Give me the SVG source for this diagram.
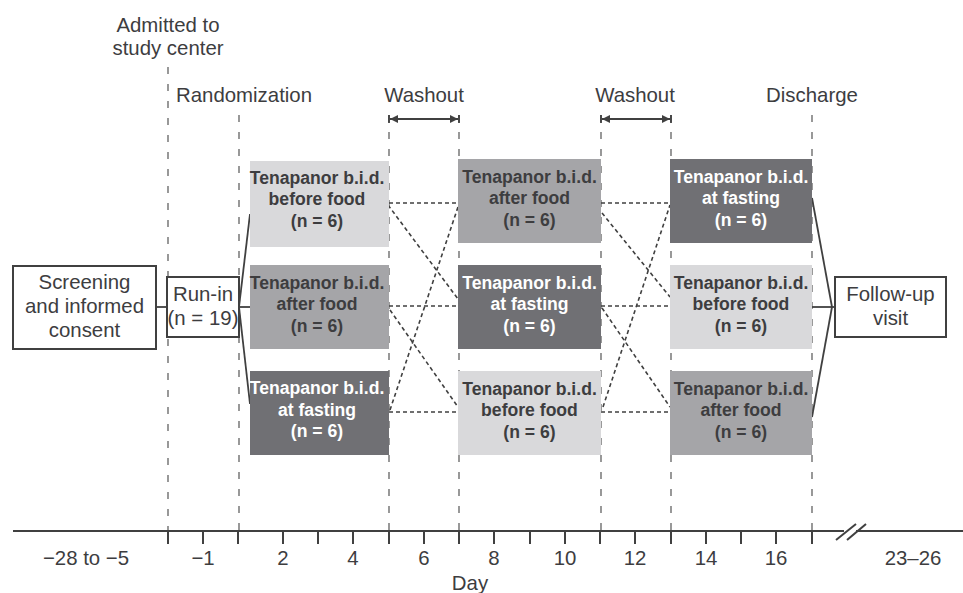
<svg xmlns="http://www.w3.org/2000/svg" width="963" height="593" viewBox="0 0 963 593">
<defs>
<style>
.lbl{font-family:"Liberation Sans",Arial,sans-serif;font-size:20.4px;fill:#3d3d3f}
.bt{font-family:"Liberation Sans",Arial,sans-serif;font-size:17.6px;font-weight:bold;text-anchor:middle}
.dk{fill:#3d3d3f}
.wt{fill:#ffffff}
.vd{stroke:#555;stroke-width:1.2;stroke-dasharray:7 10;fill:none}
.dot{stroke:#404040;stroke-width:1.6;stroke-dasharray:4 3;fill:none}
.sol{stroke:#404040;stroke-width:1.8;fill:none}
.ax{stroke:#404040;stroke-width:2;fill:none}
.light{fill:#d9d9db}
.med{fill:#a5a5a8}
.dark{fill:#707074}
.ob{fill:#fff;stroke:#404040;stroke-width:2}
</style>
<marker id="ah" viewBox="0 0 10 10" refX="10" refY="5" markerWidth="8" markerHeight="8" markerUnits="userSpaceOnUse" orient="auto-start-reverse">
<path d="M0,0 L10,5 L0,10 z" fill="#404040"/>
</marker>
</defs>
<rect width="963" height="593" fill="#fff"/>

<g id="gridlines">
<line class="vd" x1="168" y1="67" x2="168" y2="531"/>
<line class="vd" x1="239" y1="115" x2="239" y2="531"/>
<line class="vd" x1="389" y1="115" x2="389" y2="531"/>
<line class="vd" x1="459" y1="115" x2="459" y2="531"/>
<line class="vd" x1="601" y1="115" x2="601" y2="531"/>
<line class="vd" x1="671" y1="115" x2="671" y2="531"/>
<line class="vd" x1="812" y1="115" x2="812" y2="531"/>
</g>

<g id="phase-labels">
<text class="lbl" x="168" y="32" text-anchor="middle">Admitted to</text>
<text class="lbl" x="168" y="55" text-anchor="middle">study center</text>
<text class="lbl" x="176" y="102">Randomization</text>
<text class="lbl" x="424" y="102" text-anchor="middle">Washout</text>
<text class="lbl" x="635" y="102" text-anchor="middle">Washout</text>
<text class="lbl" x="812" y="102" text-anchor="middle">Discharge</text>
</g>

<g id="washout-arrows">
<line class="sol" x1="389" y1="115" x2="389" y2="123"/>
<line class="sol" x1="459" y1="115" x2="459" y2="123"/>
<line class="sol" x1="390" y1="119" x2="458" y2="119" marker-start="url(#ah)" marker-end="url(#ah)"/>
<line class="sol" x1="601" y1="115" x2="601" y2="123"/>
<line class="sol" x1="671" y1="115" x2="671" y2="123"/>
<line class="sol" x1="602" y1="119" x2="670" y2="119" marker-start="url(#ah)" marker-end="url(#ah)"/>
</g>

<g id="connectors">
<line class="sol" x1="156" y1="307" x2="167" y2="307"/>
<line class="sol" x1="239" y1="307" x2="250" y2="214"/>
<line class="sol" x1="239" y1="307" x2="250" y2="307"/>
<line class="sol" x1="239" y1="307" x2="250" y2="404"/>
<line class="sol" x1="812" y1="198" x2="832" y2="307"/>
<line class="sol" x1="812" y1="307" x2="835" y2="307"/>
<line class="sol" x1="812" y1="417" x2="832" y2="307"/>
<line class="dot" x1="389" y1="203" x2="458" y2="203"/>
<line class="dot" x1="389" y1="306" x2="458" y2="306"/>
<line class="dot" x1="389" y1="412" x2="458" y2="412"/>
<line class="dot" x1="388" y1="205" x2="458" y2="299"/>
<line class="dot" x1="390" y1="310" x2="458" y2="407"/>
<line class="dot" x1="390" y1="410" x2="458" y2="207"/>
<line class="dot" x1="601" y1="203" x2="670" y2="203"/>
<line class="dot" x1="601" y1="306" x2="670" y2="306"/>
<line class="dot" x1="601" y1="412" x2="670" y2="412"/>
<line class="dot" x1="602" y1="213" x2="670" y2="297"/>
<line class="dot" x1="602" y1="308" x2="670" y2="407"/>
<line class="dot" x1="603" y1="407" x2="670" y2="205"/>
</g>

<g id="screening">
<rect class="ob" x="13" y="266" width="143" height="83"/>
<text class="lbl" x="84.5" y="289" text-anchor="middle">Screening</text>
<text class="lbl" x="84.5" y="313" text-anchor="middle">and informed</text>
<text class="lbl" x="84.5" y="337" text-anchor="middle">consent</text>
</g>

<g id="run-in">
<rect class="ob" x="167" y="277" width="72" height="60"/>
<text class="lbl" x="203" y="301" text-anchor="middle">Run-in</text>
<text class="lbl" x="203" y="325" text-anchor="middle">(n = 19)</text>
</g>

<g id="p1-before-food">
<rect class="light" x="250" y="161" width="139" height="86"/>
<text class="bt dk" x="317" y="183.5">Tenapanor b.i.d.</text>
<text class="bt dk" x="317" y="205">before food</text>
<text class="bt dk" x="317" y="226.5">(n = 6)</text>
</g>
<g id="p1-after-food">
<rect class="med" x="250" y="265" width="139" height="84"/>
<text class="bt dk" x="317" y="288.5">Tenapanor b.i.d.</text>
<text class="bt dk" x="317" y="310">after food</text>
<text class="bt dk" x="317" y="331.5">(n = 6)</text>
</g>
<g id="p1-at-fasting">
<rect class="dark" x="250" y="371" width="139" height="84"/>
<text class="bt wt" x="317" y="394">Tenapanor b.i.d.</text>
<text class="bt wt" x="317" y="415.5">at fasting</text>
<text class="bt wt" x="317" y="437">(n = 6)</text>
</g>

<g id="p2-after-food">
<rect class="med" x="458" y="159" width="143" height="84"/>
<text class="bt dk" x="529.5" y="182.5">Tenapanor b.i.d.</text>
<text class="bt dk" x="529.5" y="204">after food</text>
<text class="bt dk" x="529.5" y="225.5">(n = 6)</text>
</g>
<g id="p2-at-fasting">
<rect class="dark" x="458" y="265" width="143" height="84"/>
<text class="bt wt" x="529.5" y="288.5">Tenapanor b.i.d.</text>
<text class="bt wt" x="529.5" y="310">at fasting</text>
<text class="bt wt" x="529.5" y="331.5">(n = 6)</text>
</g>
<g id="p2-before-food">
<rect class="light" x="458" y="371" width="143" height="84"/>
<text class="bt dk" x="529.5" y="394.5">Tenapanor b.i.d.</text>
<text class="bt dk" x="529.5" y="416">before food</text>
<text class="bt dk" x="529.5" y="437.5">(n = 6)</text>
</g>

<g id="p3-at-fasting">
<rect class="dark" x="670" y="159" width="142" height="84"/>
<text class="bt wt" x="741" y="182.5">Tenapanor b.i.d.</text>
<text class="bt wt" x="741" y="204">at fasting</text>
<text class="bt wt" x="741" y="225.5">(n = 6)</text>
</g>
<g id="p3-before-food">
<rect class="light" x="670" y="265" width="142" height="84"/>
<text class="bt dk" x="741" y="288.5">Tenapanor b.i.d.</text>
<text class="bt dk" x="741" y="310">before food</text>
<text class="bt dk" x="741" y="331.5">(n = 6)</text>
</g>
<g id="p3-after-food">
<rect class="med" x="670" y="371" width="142" height="84"/>
<text class="bt dk" x="741" y="394.5">Tenapanor b.i.d.</text>
<text class="bt dk" x="741" y="416">after food</text>
<text class="bt dk" x="741" y="437.5">(n = 6)</text>
</g>

<g id="follow-up">
<rect class="ob" x="835" y="277" width="111" height="60"/>
<text class="lbl" x="890.5" y="301" text-anchor="middle">Follow-up</text>
<text class="lbl" x="890.5" y="325" text-anchor="middle">visit</text>
</g>

<g id="axis">
<line class="ax" x1="13" y1="531" x2="963" y2="531"/>
<path class="ax" d="M168,531V544 M203,531V544 M238,531V544 M283,531V544 M318,531V544 M353,531V544 M389,531V544 M424,531V544 M459,531V544 M494,531V544 M530,531V544 M565,531V544 M600,531V544 M635,531V544 M671,531V544 M706,531V544 M741,531V544 M776,531V544 M812,531V544"/>
<line stroke="#fff" stroke-width="4" x1="844" y1="531" x2="856" y2="531"/>
<line class="ax" x1="836" y1="540" x2="856" y2="524"/>
<line class="ax" x1="847" y1="540" x2="866" y2="524"/>
<text class="lbl" x="86" y="565" text-anchor="middle">−28 to −5</text>
<text class="lbl" x="203" y="565" text-anchor="middle">−1</text>
<text class="lbl" x="283" y="565" text-anchor="middle">2</text>
<text class="lbl" x="353" y="565" text-anchor="middle">4</text>
<text class="lbl" x="424" y="565" text-anchor="middle">6</text>
<text class="lbl" x="494" y="565" text-anchor="middle">8</text>
<text class="lbl" x="565" y="565" text-anchor="middle">10</text>
<text class="lbl" x="635" y="565" text-anchor="middle">12</text>
<text class="lbl" x="706" y="565" text-anchor="middle">14</text>
<text class="lbl" x="776" y="565" text-anchor="middle">16</text>
<text class="lbl" x="913" y="565" text-anchor="middle">23–26</text>
<text class="lbl" x="470" y="590" text-anchor="middle">Day</text>
</g>
</svg>
